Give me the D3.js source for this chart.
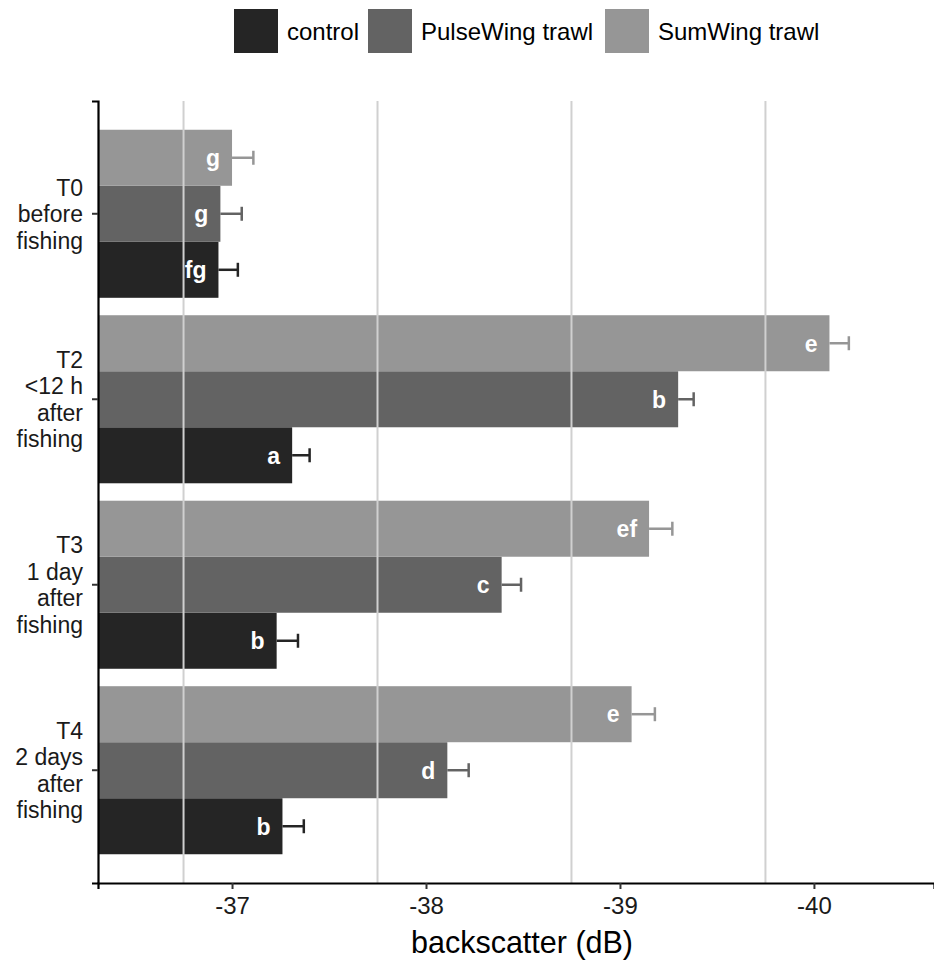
<!DOCTYPE html>
<html>
<head>
<meta charset="utf-8">
<script src="https://cdn.jsdelivr.net/npm/d3@7"></script>
<style>
  body { margin: 0; background: #fff; }
  text { font-family: "Liberation Sans", Arial, sans-serif; }
</style>
</head>
<body>
<script>
// data
const periods = ["T0", "T2", "T3", "T4"];
const periodLabels = [
  ["T0", "before", "fishing"],
  ["T2", "<12 h", "after", "fishing"],
  ["T3", "1 day", "after", "fishing"],
  ["T4", "2 days", "after", "fishing"]
];
const treatments = ["control", "PulseWing trawl", "SumWing trawl"];
const colors = ["#252525", "#636363", "#969696"];
const controlVals = [-36.93, -37.31, -37.23, -37.26];
const pulseVals = [-36.94, -39.30, -38.39, -38.11];
const sumVals = [-37.00, -40.08, -39.15, -39.06];
const controlSe = [0.10, 0.09, 0.11, 0.11];
const pulseSe = [0.11, 0.08, 0.10, 0.11];
const sumSe = [0.11, 0.10, 0.12, 0.12];
const controlLetters = ["fg", "a", "b", "b"];
const pulseLetters = ["g", "b", "c", "d"];
const sumLetters = ["g", "e", "ef", "e"];
const xTicks = [-37, -38, -39, -40];
const gridVals = [-36.75, -37.75, -38.75, -39.75];

const vals = [controlVals, pulseVals, sumVals];
const ses = [controlSe, pulseSe, sumSe];
const letters = [controlLetters, pulseLetters, sumLetters];

const rows = [];
periods.forEach((p, i) => {
  treatments.forEach((t, j) => {
    rows.push({ period: p, treat: t, j: j, v: vals[j][i], se: ses[j][i], lab: letters[j][i] });
  });
});

const W = 934, H = 965;
const mLeft = 98, mRight = 934, mTop = 101, mBottom = 883;

const svg = d3.select("body").append("svg").attr("width", W).attr("height", H);

const x = d3.scaleLinear().domain([-36.309, -40.619]).range([mLeft, mRight]);
// discrete band with ggplot-like expansion
const y = d3.scaleBand().domain(periods).range([mTop, mBottom]).paddingInner(0.094).paddingOuter(0.155);
const yInner = d3.scaleBand().domain([2, 1, 0]).range([0, y.bandwidth()]);
const x0 = x(x.domain()[0]);

// bars
svg.append("g").selectAll("rect").data(rows).enter().append("rect")
  .attr("x", x0)
  .attr("y", d => y(d.period) + yInner(d.j))
  .attr("width", d => x(d.v) - x0)
  .attr("height", yInner.bandwidth())
  .attr("fill", d => colors[d.j]);

// gridlines (drawn over bars like the reference)
svg.append("g").selectAll("line").data(gridVals).enter().append("line")
  .attr("x1", d => x(d)).attr("x2", d => x(d))
  .attr("y1", mTop).attr("y2", mBottom)
  .attr("stroke", "#d0d0d0").attr("stroke-width", 2);

// error bars
const cy = d => y(d.period) + yInner(d.j) + yInner.bandwidth() / 2;
const eb = svg.append("g").selectAll("g").data(rows).enter().append("g")
  .attr("stroke", d => colors[d.j]).attr("stroke-width", 2.5);
eb.append("line")
  .attr("x1", d => x(d.v)).attr("x2", d => x(d.v - d.se))
  .attr("y1", cy).attr("y2", cy);
eb.append("line")
  .attr("x1", d => x(d.v - d.se)).attr("x2", d => x(d.v - d.se))
  .attr("y1", d => cy(d) - 7).attr("y2", d => cy(d) + 7);

// letters
svg.append("g").selectAll("text").data(rows).enter().append("text")
  .attr("x", d => x(d.v) - 12)
  .attr("y", cy)
  .attr("dy", "0.36em")
  .attr("text-anchor", "end")
  .attr("fill", "#fff")
  .attr("font-weight", "bold")
  .attr("font-size", 23)
  .text(d => d.lab);

// x axis
const xAxis = svg.append("g")
  .attr("transform", "translate(0," + mBottom + ")")
  .call(d3.axisBottom(x).tickValues(xTicks).tickFormat(d => String(d)).tickSizeOuter(0).tickSize(6).tickPadding(8));
xAxis.select(".domain").attr("stroke", "#000").attr("stroke-width", 2.2);
xAxis.selectAll(".tick line").attr("stroke", "#333").attr("stroke-width", 2);
xAxis.selectAll(".tick text").attr("font-size", 24).attr("fill", "#1a1a1a")
  .attr("font-family", "Liberation Sans, Arial, sans-serif");

// y axis
const yAxis = svg.append("g")
  .attr("transform", "translate(" + mLeft + ",0)")
  .call(d3.axisLeft(y).tickSizeOuter(0).tickSize(6).tickFormat(""));
yAxis.select(".domain").attr("stroke", "#000").attr("stroke-width", 2.2);
yAxis.selectAll(".tick line").attr("stroke", "#333").attr("stroke-width", 2);

const fs = 23, lh = 26.5;
const lab = svg.append("g").selectAll("text").data(periods).enter().append("text")
  .attr("text-anchor", "end")
  .attr("font-size", fs)
  .attr("fill", "#1a1a1a")
  .attr("y", p => y(p) + y.bandwidth() / 2);
lab.each(function (p, i) {
  const lines = periodLabels[i];
  const t = d3.select(this);
  lines.forEach((s, k) => {
    t.append("tspan").attr("x", 83)
      .attr("dy", k === 0 ? (-(lines.length - 1) / 2 * lh + 0.36 * fs) : lh)
      .text(s);
  });
});

// axis title
svg.append("text")
  .attr("x", 522).attr("y", 953)
  .attr("text-anchor", "middle")
  .attr("font-size", 30.5)
  .attr("fill", "#000")
  .text("backscatter (dB)");

// legend
const legX = [234, 368, 605];
const leg = svg.append("g").selectAll("g").data(treatments).enter().append("g")
  .attr("transform", (d, i) => "translate(" + legX[i] + ",9)");
leg.append("rect").attr("width", 44).attr("height", 44).attr("fill", (d, i) => colors[i]);
leg.append("text").attr("x", 53).attr("y", 22).attr("dy", "0.36em")
  .attr("font-size", 24).attr("fill", "#000").text(d => d);
</script>
</body>
</html>
